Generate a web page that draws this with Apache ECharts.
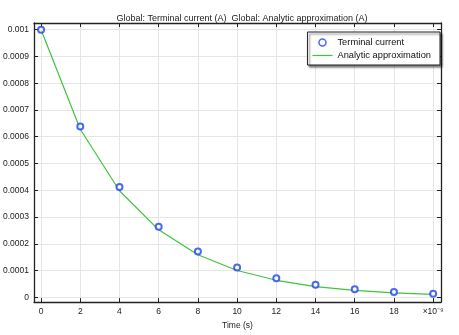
<!DOCTYPE html>
<html><head><meta charset="utf-8">
<script src="https://cdn.jsdelivr.net/npm/echarts@6/dist/echarts.min.js"></script>
<style>html,body{margin:0;padding:0;background:#fff}#c{width:459px;height:335px}</style>
</head><body><div id="c"></div>
<script>
const times = [0, 2, 4, 6, 8, 10, 12, 14, 16, 18, 20];
const terminalCurrent = [0.001, 0.000638, 0.000412, 0.000264, 0.000171, 0.000111, 0.0000715, 0.0000465, 0.000030, 0.0000195, 0.0000135];
const analyticApprox = [0.001, 0.000628, 0.000398, 0.000252, 0.000159, 0.000100, 0.0000635, 0.0000400, 0.0000255, 0.0000162, 0.0000105];
const xTicks = [0, 2, 4, 6, 8, 10, 12, 14, 16, 18, 20];
const yTicks = [0, 0.0001, 0.0002, 0.0003, 0.0004, 0.0005, 0.0006, 0.0007, 0.0008, 0.0009, 0.001];
const yTickLabels = ['0', '0.0001', '0.0002', '0.0003', '0.0004', '0.0005', '0.0006', '0.0007', '0.0008', '0.0009', '0.001'];

const FONT = 'Liberation Sans';
const xMin = -0.36, xMax = 20.4, yMin = -0.000018, yMax = 0.001025;
const chart = echarts.init(document.getElementById('c'));
const lineCol = '#222';
const axisLine = {show: true, onZero: false, lineStyle: {color: lineCol, width: 1.3}};
chart.setOption({
  animation: false,
  title: {text: 'Global: Terminal current (A)  Global: Analytic approximation (A)', left: 237, textAlign: 'center', top: 9,
    textStyle: {fontFamily: FONT, fontSize: 9, fontWeight: 'normal', color: '#222'}},
  grid: {left: 34, right: 18, top: 23, bottom: 22, show: false},
  legend: {
    right: 19, top: 32, orient: 'vertical', backgroundColor: '#fff', borderColor: '#222', borderWidth: 1,
    padding: [6, 9, 5, 5], itemGap: 4, itemWidth: 20, itemHeight: 7,
    shadowColor: 'rgba(0,0,0,0.5)', shadowOffsetX: 2, shadowOffsetY: 2, shadowBlur: 2,
    textStyle: {fontFamily: FONT, fontSize: 9.3, color: '#111'},
    data: [
      {name: 'Terminal current', icon: 'circle', itemStyle: {color: '#fff', borderColor: '#2244ee', borderWidth: 1.5}},
      {name: 'Analytic approximation', icon: 'path://M0,0h20v1.2h-20z', itemStyle: {color: '#3ec43e'}}
    ]
  },
  xAxis: [{
    type: 'value', min: xMin, max: xMax, position: 'bottom',
    name: 'Time (s)', nameLocation: 'middle', nameGap: 14,
    nameTextStyle: {fontFamily: FONT, fontSize: 8.5, color: '#222'},
    axisLine,
    axisTick: {show: true, inside: true, length: 4, lineStyle: {color: lineCol}, customValues: xTicks},
    axisLabel: {customValues: xTicks, fontFamily: FONT, fontSize: 8.5, color: '#222', margin: 5,
      formatter: v => (Math.abs(v - 20) < 1e-9 ? '×10⁻⁹' : String(Math.round(v)))},
    splitLine: {show: true, lineStyle: {color: '#e6e6e6', width: 1}, customValues: xTicks}
  }, {
    type: 'value', min: xMin, max: xMax, position: 'top',
    axisLine,
    axisTick: {show: true, inside: true, length: 4, lineStyle: {color: lineCol}, customValues: xTicks},
    axisLabel: {show: false}, splitLine: {show: false}
  }],
  yAxis: [{
    type: 'value', min: yMin, max: yMax, position: 'left',
    axisLine,
    axisTick: {show: true, inside: true, length: 4, lineStyle: {color: lineCol}, customValues: yTicks},
    axisLabel: {customValues: yTicks, fontFamily: FONT, fontSize: 8.5, color: '#222', margin: 5,
      formatter: v => { const i = yTicks.findIndex(t => Math.abs(t - v) < 1e-9); return i >= 0 ? yTickLabels[i] : ''; }},
    splitLine: {show: true, lineStyle: {color: '#e6e6e6', width: 1}, customValues: yTicks}
  }, {
    type: 'value', min: yMin, max: yMax, position: 'right',
    axisLine,
    axisTick: {show: true, inside: true, length: 4, lineStyle: {color: lineCol}, customValues: yTicks},
    axisLabel: {show: false}, splitLine: {show: false}
  }],
  series: [{
    name: 'Analytic approximation', type: 'line', symbol: 'none', z: 2,
    lineStyle: {color: '#3ec43e', width: 1.2}, itemStyle: {color: '#3ec43e'},
    data: times.map((t, i) => [t, analyticApprox[i]])
  }, {
    name: 'Terminal current', type: 'scatter', symbol: 'emptyCircle', symbolSize: 6, z: 3,
    itemStyle: {color: '#2244ee', borderColor: '#2244ee', borderWidth: 1.5},
    data: times.map((t, i) => [t, terminalCurrent[i]])
  }]
});
</script></body></html>
